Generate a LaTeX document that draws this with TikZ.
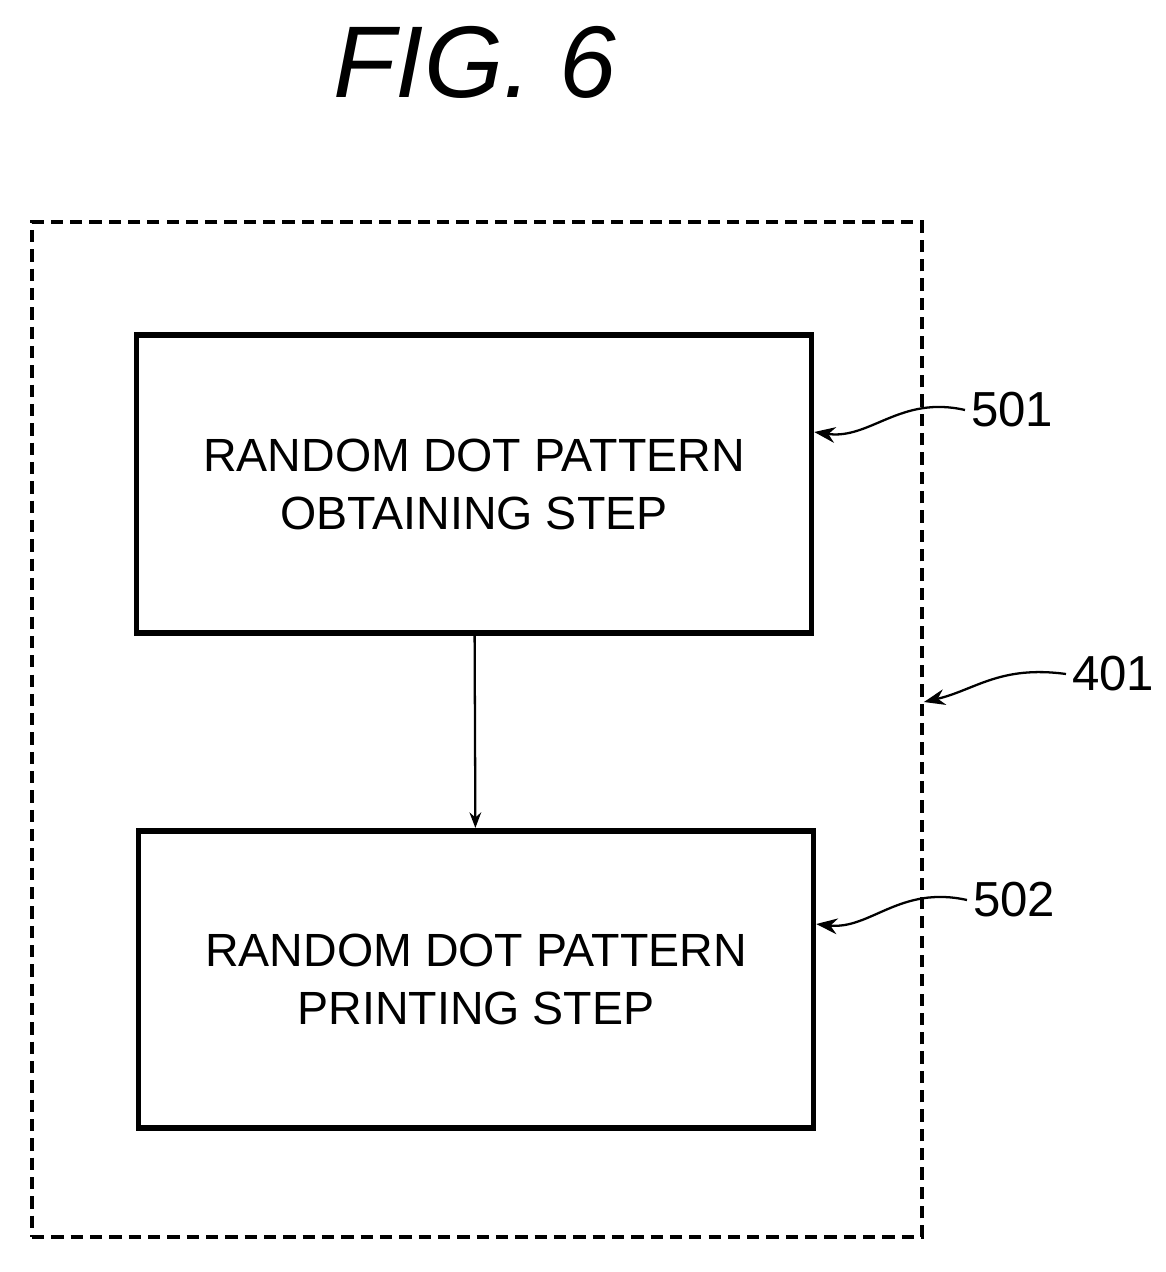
\documentclass[tikz,border=0pt]{standalone}
\usepackage{fontspec}
\setmainfont{Liberation Sans}
\usetikzlibrary{positioning,arrows.meta}

\begin{document}
\begin{tikzpicture}[
  x=0.02cm, y=-0.02cm,
  stepbox/.style={draw, line width=3.2pt, minimum width=13.5cm, minimum height=5.95cm,
    font=\fontsize{26.5}{33}\selectfont, align=center},
  ref/.style={font=\fontsize{28}{32}\selectfont, anchor=west},
  lead/.style={-{Stealth[length=12pt,width=9pt]}, line width=1.3pt},
  >=Stealth
]
  \useasboundingbox (0,0) rectangle (1166,1272);
  \node[font=\fontsize{58}{60}\selectfont\itshape] (title) at (475,62) {FIG. 6};

  \node[draw, line width=2.3pt, dash pattern=on 7pt off 4pt,
    minimum width=17.8cm, minimum height=20.3cm] (frame) at (477,729.5) {};

  \node[stepbox] (obtain) at (474,484) {RANDOM DOT PATTERN\\OBTAINING STEP};
  \node[stepbox] (print) at (476,979.5) {RANDOM DOT PATTERN\\PRINTING STEP};
  \draw[->, line width=1.3pt] (obtain) -- (print);

  \node[ref] (r501) at (965,410) {501};
  \node[ref] (r502) at (967,900) {502};
  \node[ref] (r401) at (1066,674) {401};

  \draw[lead] (r501.west) .. controls (900,395) and (870,440) .. (obtain.east |- 0,432);
  \draw[lead] (r502.west) .. controls (900,885) and (870,930) .. (print.east |- 0,924);
  \draw[lead] (r401.west) .. controls (1000,665) and (975,690) .. (frame.east |- 0,702);
\end{tikzpicture}
\end{document}
